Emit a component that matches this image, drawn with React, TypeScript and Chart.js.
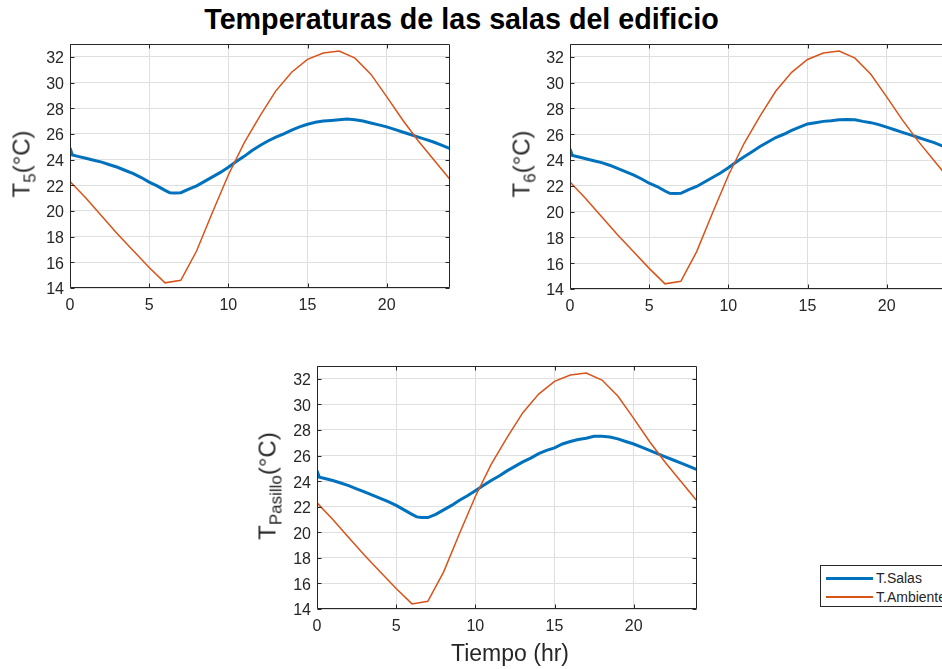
import React, { useEffect, useRef } from "react";
import { Chart, registerables } from "chart.js";

Chart.register(...registerables);

// ---------------- data ----------------
const TITLE = "Temperaturas de las salas del edificio";
const SERIES_NAMES = ["T.Salas", "T.Ambiente"];
const X_LABEL = "Tiempo (hr)";
const X_TICKS = [0, 5, 10, 15, 20];
const Y_TICKS = [14, 16, 18, 20, 22, 24, 26, 28, 30, 32];

const HOURS_AMB = [0, 1, 2, 3, 4, 5, 6, 7, 8, 9, 10, 11, 12, 13, 14, 15, 16, 17, 18, 19, 20, 21, 22, 23, 24];
const T_AMB = [22.3, 21.0, 19.6, 18.2, 16.9, 15.6, 14.4, 14.6, 16.9, 19.9, 22.8, 25.3, 27.4, 29.35, 30.8, 31.8, 32.3, 32.45, 31.9, 30.65, 28.9, 27.1, 25.45, 23.95, 22.45];

const HOURS_SALA = [0, 0.15, 0.5, 1, 1.5, 2, 2.5, 3, 3.5, 4, 4.5, 5, 5.5, 6, 6.3, 6.6, 7, 7.5, 8, 8.5, 9, 9.5, 10, 10.5, 11, 11.5, 12, 12.5, 13, 13.5, 14, 14.5, 15, 15.5, 16, 16.5, 17, 17.5, 18, 18.5, 19, 19.5, 20, 20.5, 21, 21.5, 22, 22.5, 23, 23.5, 24];
const T5 = [24.9, 24.35, 24.25, 24.1, 23.95, 23.8, 23.6, 23.4, 23.15, 22.9, 22.6, 22.25, 21.95, 21.6, 21.42, 21.4, 21.42, 21.7, 21.95, 22.3, 22.65, 23.0, 23.4, 23.85, 24.25, 24.7, 25.1, 25.45, 25.75, 26.0, 26.3, 26.55, 26.75, 26.9, 27.0, 27.05, 27.1, 27.15, 27.1, 27.0, 26.85, 26.7, 26.55, 26.35, 26.15, 25.95, 25.75, 25.55, 25.35, 25.1, 24.85];
const T6 = [24.85, 24.35, 24.25, 24.1, 23.95, 23.8, 23.6, 23.35, 23.1, 22.85, 22.55, 22.2, 21.95, 21.6, 21.42, 21.4, 21.42, 21.7, 21.95, 22.3, 22.65, 23.0, 23.4, 23.85, 24.25, 24.65, 25.05, 25.4, 25.75, 26.0, 26.3, 26.55, 26.8, 26.9, 27.0, 27.05, 27.12, 27.15, 27.12, 27.0, 26.9, 26.75, 26.55, 26.35, 26.15, 25.95, 25.75, 25.55, 25.35, 25.1, 24.9];
const T_PASILLO = [24.8, 24.3, 24.2, 24.05, 23.85, 23.65, 23.4, 23.15, 22.9, 22.65, 22.4, 22.1, 21.75, 21.4, 21.2, 21.15, 21.15, 21.4, 21.75, 22.1, 22.5, 22.85, 23.25, 23.65, 24.05, 24.4, 24.8, 25.15, 25.5, 25.8, 26.15, 26.4, 26.6, 26.9, 27.1, 27.25, 27.35, 27.5, 27.5, 27.45, 27.3, 27.1, 26.9, 26.65, 26.4, 26.15, 25.9, 25.65, 25.4, 25.15, 24.9];

// ---------------- styles ----------------
const BLUE = "#0072BD";
const ORANGE = "#D95319";
const AXIS = "#262626";
const GRID = "#dfdfdf";
const FONT = "'Liberation Sans', Arial, Helvetica, sans-serif";

const ML = 50; // y-axis band
const MT = 22;
const MR = 10;
const MB = 40; // x-axis band

Chart.defaults.font.family = FONT;

const boxPlugin = {
  id: "matlabBox",
  afterDatasetsDraw(chart: any) {
    const { ctx, chartArea: a, scales } = chart;
    ctx.save();
    ctx.strokeStyle = AXIS;
    ctx.lineWidth = 1;
    const l = Math.round(a.left) + 0.5;
    const r = Math.round(a.right) - 0.5;
    const t = Math.round(a.top) + 0.5;
    const b = Math.round(a.bottom) - 0.5;
    ctx.beginPath();
    ctx.rect(l, t, r - l, b - t);
    const tl = 4;
    for (const v of X_TICKS) {
      const px = Math.round(scales.x.getPixelForValue(v)) + 0.5;
      ctx.moveTo(px, b);
      ctx.lineTo(px, b - tl);
      ctx.moveTo(px, t);
      ctx.lineTo(px, t + tl);
    }
    for (const v of Y_TICKS) {
      const py = Math.round(scales.y.getPixelForValue(v)) + 0.5;
      ctx.moveTo(l, py);
      ctx.lineTo(l + tl, py);
      ctx.moveTo(r, py);
      ctx.lineTo(r - tl, py);
    }
    ctx.stroke();
    ctx.restore();
  },
};

type PanelProps = { left: number; top: number; w: number; h: number; salas: number[] };

function Panel({ left, top, w, h, salas }: PanelProps) {
  const ref = useRef<HTMLCanvasElement>(null);
  const cw = ML + w + MR;
  const ch = MT + h + MB;
  useEffect(() => {
    const chart = new Chart(ref.current as HTMLCanvasElement, {
      type: "line",
      data: {
        datasets: [
          {
            label: SERIES_NAMES[0],
            data: HOURS_SALA.map((x, i) => ({ x, y: salas[i] })),
            borderColor: BLUE,
            backgroundColor: BLUE,
            borderWidth: 3,
            pointRadius: 0,
            tension: 0,
            fill: false,
            order: 1,
          },
          {
            label: SERIES_NAMES[1],
            data: HOURS_AMB.map((x, i) => ({ x, y: T_AMB[i] })),
            borderColor: ORANGE,
            backgroundColor: ORANGE,
            borderWidth: 1.5,
            pointRadius: 0,
            tension: 0,
            fill: false,
            order: 0,
          },
        ],
      },
      options: {
        animation: false,
        responsive: false,
        maintainAspectRatio: false,
        devicePixelRatio: 1,
        layout: { padding: { left: 0, top: MT, right: MR, bottom: 0 } },
        plugins: { legend: { display: false }, tooltip: { enabled: false }, title: { display: false } },
        scales: {
          x: {
            type: "linear",
            min: 0,
            max: 24,
            afterBuildTicks: (s: any) => {
              s.ticks = X_TICKS.map((v) => ({ value: v }));
            },
            afterFit: (s: any) => {
              s.height = MB;
            },
            grid: { color: GRID, drawTicks: false },
            border: { display: false },
            ticks: { padding: 8, color: AXIS, font: { size: 16 }, maxRotation: 0, autoSkip: false },
          },
          y: {
            type: "linear",
            min: 14,
            max: 33,
            afterBuildTicks: (s: any) => {
              s.ticks = Y_TICKS.map((v) => ({ value: v }));
            },
            afterFit: (s: any) => {
              s.width = ML;
            },
            grid: { color: GRID, drawTicks: false },
            border: { display: false },
            ticks: { padding: 6, labelOffset: 2, color: AXIS, font: { size: 16 }, autoSkip: false },
          },
        },
      },
      plugins: [boxPlugin],
    } as any);
    return () => chart.destroy();
  }, []);
  return (
    <canvas
      ref={ref}
      width={cw}
      height={ch}
      style={{ position: "absolute", left: left - ML, top: top - MT, width: cw, height: ch }}
    />
  );
}

function YLabel({ cx, cy, sub }: { cx: number; cy: number; sub: string }) {
  return (
    <div
      style={{
        position: "absolute",
        left: cx,
        top: cy,
        transform: "translate(-50%, -50%) rotate(-90deg)",
        whiteSpace: "nowrap",
        fontFamily: FONT,
        fontSize: 24,
        lineHeight: "24px",
        color: AXIS,
      }}
    >
      T
      <span style={{ fontSize: 17, position: "relative", top: 6 }}>{sub}</span>
      (°C)
    </div>
  );
}

export default function App() {
  return (
    <div
      style={{
        position: "absolute",
        left: 0,
        top: 0,
        width: 942,
        height: 669,
        overflow: "hidden",
        background: "#ffffff",
      }}
    >
      <div
        style={{
          position: "absolute",
          left: 461.5,
          top: 5,
          transform: "translateX(-50%)",
          whiteSpace: "nowrap",
          fontFamily: FONT,
          fontWeight: "bold",
          fontSize: 28.7,
          lineHeight: "29px",
          color: "#000",
        }}
      >
        {TITLE}
      </div>

      <Panel left={70} top={44} w={380} h={244} salas={T5} />
      <Panel left={570} top={44} w={380} h={245} salas={T6} />
      <Panel left={317} top={366} w={380} h={243} salas={T_PASILLO} />

      <YLabel cx={23} cy={164} sub="5" />
      <YLabel cx={523} cy={164} sub="6" />
      <YLabel cx={269} cy={486} sub="Pasillo" />

      <div
        style={{
          position: "absolute",
          left: 510,
          top: 642,
          transform: "translateX(-50%)",
          whiteSpace: "nowrap",
          fontFamily: FONT,
          fontSize: 23,
          lineHeight: "23px",
          color: AXIS,
        }}
      >
        {X_LABEL}
      </div>

      <div
        style={{
          position: "absolute",
          left: 820,
          top: 565,
          width: 128,
          height: 42,
          border: `1px solid ${AXIS}`,
          background: "#fff",
          fontFamily: FONT,
          fontSize: 14,
          color: AXIS,
          boxSizing: "border-box",
        }}
      >
        {SERIES_NAMES.map((name, i) => (
          <div key={name} style={{ position: "absolute", left: 0, top: i === 0 ? 3 : 22, height: 18, width: 126 }}>
            <div
              style={{
                position: "absolute",
                left: 5,
                width: 47,
                top: 9 - (i === 0 ? 1.5 : 0.75),
                height: i === 0 ? 3 : 1.5,
                background: i === 0 ? BLUE : ORANGE,
              }}
            />
            <div style={{ position: "absolute", left: 55, top: 0, lineHeight: "18px", whiteSpace: "nowrap" }}>{name}</div>
          </div>
        ))}
      </div>
    </div>
  );
}
